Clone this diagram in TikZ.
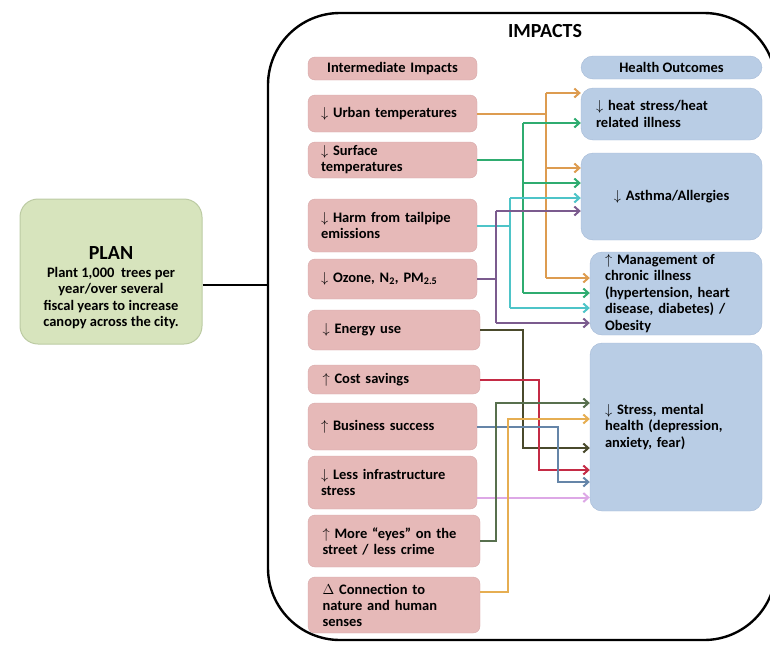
\documentclass[tikz,border=0pt]{standalone}
\usepackage{fontspec}
\setmainfont{Carlito}
\usetikzlibrary{arrows.meta}
\definecolor{pinkfill}{HTML}{E6B9B8}
\definecolor{pinkedge}{HTML}{D6A8A9}
\definecolor{bluefill}{HTML}{B9CDE5}
\definecolor{blueedge}{HTML}{A5BAD6}
\definecolor{planfill}{HTML}{D7E4BD}
\definecolor{planedge}{HTML}{BCCBA3}
\definecolor{corng}{HTML}{DD9C50}
\definecolor{cgrn}{HTML}{2FAC70}
\definecolor{ccyn}{HTML}{4EC4C8}
\definecolor{cprp}{HTML}{7B5B8E}
\definecolor{cenrg}{HTML}{4A4A2C}
\definecolor{cred}{HTML}{C42B45}
\definecolor{cbgry}{HTML}{6585A8}
\definecolor{cpnk}{HTML}{DDA8E6}
\definecolor{cdgrn}{HTML}{58704E}
\definecolor{cgld}{HTML}{E6AE52}
\tikzset{
  >={Straight Barb[length=5pt,width=9pt]},
  impframe/.style={draw, line width=2.4pt, rounded corners=72pt, minimum width=508pt, minimum height=627pt},
  planbox/.style ={draw=planedge, fill=planfill, line width=1pt, rounded corners=18pt, minimum width=182pt, minimum height=145pt},
  imp/.style     ={draw=pinkedge, fill=pinkfill, rounded corners=7pt, minimum width=169pt, text width=143pt, inner xsep=13pt, inner ysep=2pt, align=left, font=\fontsize{14.5}{16}\selectfont\bfseries},
  hlth/.style    ={draw=blueedge, fill=bluefill, rounded corners=12pt, inner xsep=15pt, inner ysep=2pt, align=left, font=\fontsize{14.5}{16.5}\selectfont\bfseries},
  ttl/.style     ={font=\fontsize{20}{22}\selectfont\bfseries},
  lk/.style      ={draw=#1, line width=2pt}
}
\begin{document}
\begin{tikzpicture}[x=1pt, y=-1pt]
\useasboundingbox (0,0) rectangle (770,648);
\node[impframe] (impacts) at (522,326.5) {};
\node[ttl] (imptitle) at (545,31) {IMPACTS};

\node[planbox] (plan) at (111,271.5) {};
\node[ttl] (plantitle) at (111,253) {PLAN};
\node[align=center, font=\fontsize{14.5}{16.5}\selectfont\bfseries] (plantext) at (111,298)
  {Plant 1,000~ trees per\\year/over several\\fiscal years to increase\\canopy across the city.};
\draw[line width=2pt] ([yshift=-13.5pt]plan.east) -- ([yshift=-13.5pt]plan.east -| impacts.west);

% intermediate impacts
\node[imp, align=center, minimum height=23pt] (ihdr) at (392.5,68.5) {Intermediate Impacts};
\node[imp, minimum height=37pt] (urban) at (392.5,113.5) {$\downarrow$ Urban temperatures};
\node[imp, minimum height=36pt] (surf) at (392.5,160) {$\downarrow$ Surface\\temperatures};
\node[imp, minimum height=53pt] (tail) at (392.5,225.5) {$\downarrow$ Harm from tailpipe\\emissions};
\node[imp, minimum height=40pt] (ozone) at (392.5,279) {$\downarrow$ Ozone, N\textsubscript{2}, PM\textsubscript{2.5}};
\node[imp, minimum height=40pt, minimum width=172pt] (energy) at (394,330) {$\downarrow$ Energy use};
\node[imp, minimum height=29pt, minimum width=172pt] (cost) at (394,379.5) {$\uparrow$ Cost savings};
\node[imp, minimum height=47pt] (biz) at (392.5,426.5) {$\uparrow$ Business success};
\node[imp, minimum height=53pt] (infra) at (392.5,482.5) {$\downarrow$ Less infrastructure\\stress};
\node[imp, minimum height=52pt, minimum width=172pt] (eyes) at (394,541) {$\uparrow$ More “eyes” on the\\street / less crime};
\node[imp, minimum height=56pt, minimum width=172pt] (nature) at (394,605) {$\Delta$ Connection to\\nature and human\\senses};

% health outcomes
\node[hlth, align=center, minimum width=181pt, minimum height=23pt] (hhdr) at (671.5,67.5) {Health Outcomes};
\node[hlth, minimum width=181pt, minimum height=52pt, text width=151pt] (heat) at (671.5,114) {$\downarrow$ heat stress/heat\\related illness};
\node[hlth, align=center, minimum width=181pt, minimum height=87pt, text width=151pt] (asthma) at (671.5,196.5) {$\downarrow$ Asthma/Allergies};
\node[hlth, minimum width=172pt, minimum height=83pt, text width=142pt] (mgmt) at (676,293.5)
  {$\uparrow$ Management of\\chronic illness\\(hypertension, heart\\disease, diabetes) /\\Obesity};
\node[hlth, minimum width=172pt, minimum height=168pt, text width=142pt] (stress) at (676,427)
  {$\downarrow$ Stress, mental\\health (depression,\\anxiety, fear)};

% bend points
\coordinate (o1) at (546,93);  \coordinate (o2) at (546,168); \coordinate (o3) at (546,278);
\coordinate (g1) at (523,123); \coordinate (g2) at (523,183); \coordinate (g3) at (523,293);
\coordinate (c1) at (510,198); \coordinate (c2) at (510,308);
\coordinate (p1) at (496,211); \coordinate (p2) at (496,323);
\coordinate (e1) at (523,448);
\coordinate (r1) at (539,470);
\coordinate (b1) at (558,482);
\coordinate (k1) at (496,403);
\coordinate (y1) at (508,419);

\draw[lk=corng] (urban.east) -- (urban.east -| o1);
\draw[lk=corng] (o1) -- (o3);
\draw[lk=corng,->] (o1) -- (o1 -| heat.west);
\draw[lk=corng,->] (o2) -- (o2 -| asthma.west);
\draw[lk=corng,->] (o3) -- (o3 -| mgmt.west);

\draw[lk=cgrn] (surf.east) -- (surf.east -| g1);
\draw[lk=cgrn] (g1) -- (g3);
\draw[lk=cgrn,->] (g1) -- (g1 -| heat.west);
\draw[lk=cgrn,->] (g2) -- (g2 -| asthma.west);
\draw[lk=cgrn,->] (g3) -- (g3 -| mgmt.west);

\draw[lk=ccyn] (tail.east) -- (tail.east -| c1);
\draw[lk=ccyn] (c1) -- (c2);
\draw[lk=ccyn,->] (c1) -- (c1 -| asthma.west);
\draw[lk=ccyn,->] (c2) -- (c2 -| mgmt.west);

\draw[lk=cprp] (ozone.east) -- (ozone.east -| p1);
\draw[lk=cprp] (p1) -- (p2);
\draw[lk=cprp,->] (p1) -- (p1 -| asthma.west);
\draw[lk=cprp,->] (p2) -- (p2 -| mgmt.west);

\draw[lk=cenrg,->] (energy.east) -| (e1) -- (e1 -| stress.west);
\draw[lk=cred,->] (cost.east) -| (r1) -- (r1 -| stress.west);
\draw[lk=cbgry,->] (biz.east) -| (b1) -- (b1 -| stress.west);
\draw[lk=cpnk,->] ([yshift=-15pt]infra.east) -- ([yshift=-15pt]infra.east -| stress.west);
\draw[lk=cdgrn,->] (eyes.east) -| (k1) -- (k1 -| stress.west);
\draw[lk=cgld,->] ([yshift=13pt]nature.east) -| (y1) -- (y1 -| stress.west);
\end{tikzpicture}
\end{document}
